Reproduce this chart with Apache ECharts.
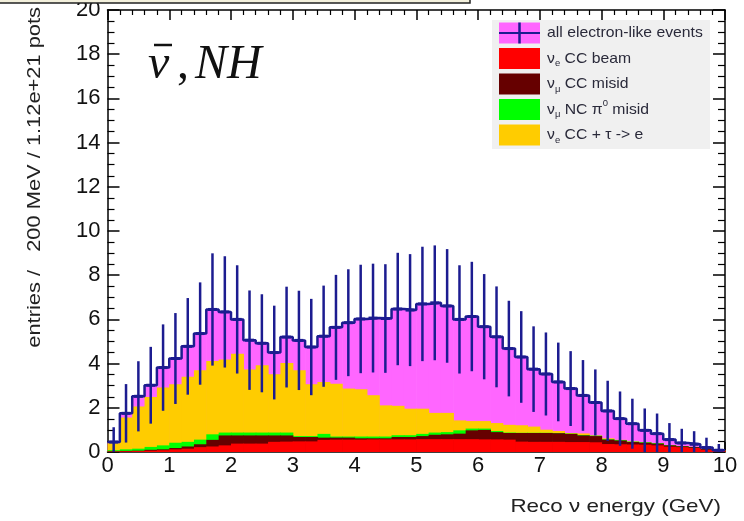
<!DOCTYPE html>
<html>
<head>
<meta charset="utf-8">
<script src="https://cdn.jsdelivr.net/npm/echarts@6/dist/echarts.min.js"></script>
<style>
  html, body { margin: 0; padding: 0; background: #ffffff; }
  #chart { width: 744px; height: 521px; }
</style>
</head>
<body>
<div id="chart"></div>
<script>
// Reconstructed neutrino energy: 50 bins of 200 MeV from 0 to 10 GeV
const binStart = 0;
const binWidth = 0.2;

// Cumulative heights of the stacked histogram, from the bottom layer up
const nueBeamTop = [0.02,0.03,0.04,0.06,0.08,0.12,0.15,0.22,0.25,0.30,
                    0.38,0.38,0.38,0.46,0.47,0.48,0.48,0.55,0.56,0.56,
                    0.56,0.57,0.57,0.57,0.57,0.58,0.58,0.58,0.58,0.58,
                    0.57,0.57,0.56,0.47,0.46,0.46,0.46,0.45,0.45,0.44,
                    0.36,0.35,0.34,0.33,0.30,0.24,0.22,0.18,0.10,0.06];
const numuCCTop  = [0.03,0.05,0.06,0.10,0.12,0.18,0.25,0.35,0.55,0.75,
                    0.75,0.75,0.75,0.75,0.75,0.68,0.68,0.65,0.65,0.65,
                    0.62,0.62,0.62,0.68,0.68,0.72,0.78,0.80,0.83,0.98,
                    1.00,0.90,0.86,0.86,0.86,0.86,0.85,0.82,0.75,0.72,
                    0.56,0.52,0.45,0.42,0.38,0.30,0.26,0.22,0.13,0.07];
const numuNCTop  = [0.08,0.12,0.15,0.23,0.30,0.42,0.46,0.56,0.80,0.88,
                    0.88,0.88,0.88,0.88,0.88,0.72,0.72,0.82,0.70,0.70,
                    0.70,0.70,0.70,0.76,0.76,0.82,0.88,0.90,0.98,1.06,
                    1.06,0.95,0.88,0.87,0.87,0.87,0.86,0.83,0.77,0.74,
                    0.58,0.54,0.47,0.44,0.40,0.31,0.27,0.23,0.14,0.07];
const nueCCTauTop = [0.40,1.56,2.06,2.49,2.92,3.06,3.40,3.70,4.12,4.18,
                    4.45,3.73,3.92,3.52,4.03,3.70,3.06,3.17,3.09,2.87,
                    2.84,2.57,2.11,2.09,1.96,1.96,1.77,1.77,1.43,1.40,
                    1.40,1.31,1.23,1.21,1.15,1.01,0.95,0.86,0.84,0.75,
                    0.62,0.55,0.48,0.44,0.40,0.31,0.27,0.23,0.14,0.07];
// All electron-like events (top of the stack, drawn with Poisson errors)
const allEvents  = [0.45,1.75,2.52,3.02,3.82,4.23,4.78,5.36,6.45,6.34,
                    6.00,5.06,4.92,4.50,5.20,5.05,4.75,5.24,5.64,5.85,
                    6.02,6.06,6.04,6.47,6.42,6.70,6.75,6.61,6.00,6.13,
                    5.67,5.21,4.68,4.30,3.75,3.53,3.17,2.87,2.56,2.24,
                    1.86,1.51,1.28,0.98,0.83,0.56,0.41,0.35,0.20,0.08];

const colors = {
  all: '#ff66ff',
  nueBeam: '#ff0000',
  numuCC: '#660000',
  numuNC: '#00ff00',
  nueCCTau: '#ffcc00',
  line: '#1c1c90'
};
const font = 'Liberation Sans, Arial, Helvetica, sans-serif';
const serif = '"Liberation Serif", "DejaVu Serif", serif';

const chart = echarts.init(document.getElementById('chart'), null, { renderer: 'canvas' });

// One filled histogram layer: a rectangle per bin from zero to its cumulative top
function histLayer(name, tops, color, z) {
  return {
    type: 'custom',
    name: name,
    z: z,
    silent: true,
    animation: false,
    xAxisIndex: 0,
    yAxisIndex: 0,
    data: tops.map((v, i) => [binStart + i * binWidth, binStart + (i + 1) * binWidth, v]),
    encode: { x: [0, 1], y: 2 },
    renderItem: function (params, api) {
      const a = api.coord([api.value(0), 0]);
      const b = api.coord([api.value(1), api.value(2)]);
      return {
        type: 'rect',
        shape: { x: a[0], y: b[1], width: b[0] - a[0] + 0.6, height: a[1] - b[1] },
        style: { fill: color }
      };
    }
  };
}

// Outline of the total as a step line through the bin edges
const outline = [];
allEvents.forEach((v, i) => {
  outline.push([binStart + i * binWidth, v]);
  outline.push([binStart + (i + 1) * binWidth, v]);
});

// Error bars at bin centres
const errorData = allEvents.map((v, i) => [binStart + (i + 0.5) * binWidth, v, Math.sqrt(v)]);

const axisCommon = {
  axisLine: { show: true, onZero: false, lineStyle: { color: '#000', width: 1.5 } },
  splitLine: { show: false }
};

const option = {
  backgroundColor: '#ffffff',
  animation: false,
  grid: { left: 107.5, right: 19, top: 10, bottom: 69, containLabel: false, outerBoundsMode: 'none' },
  xAxis: [
    Object.assign({
      type: 'value', min: 0, max: 10, interval: 1, position: 'bottom',
      axisTick: { show: true, inside: true, length: 10, lineStyle: { color: '#000', width: 1.5 } },
      minorTick: { show: true, splitNumber: 5, length: 5, lineStyle: { color: '#000', width: 1.2 } },
      axisLabel: { fontSize: 22, color: '#111', margin: 3, fontFamily: font }
    }, axisCommon),
    Object.assign({
      type: 'value', min: 0, max: 10, interval: 1, position: 'top',
      axisTick: { show: true, inside: true, length: 10, lineStyle: { color: '#000', width: 1.5 } },
      minorTick: { show: true, splitNumber: 5, length: 5, lineStyle: { color: '#000', width: 1.2 } },
      axisLabel: { show: false }
    }, axisCommon)
  ],
  yAxis: [
    Object.assign({
      type: 'value', min: 0, max: 20, interval: 2, position: 'left',
      axisTick: { show: true, inside: true, length: 12, lineStyle: { color: '#000', width: 1.5 } },
      minorTick: { show: true, splitNumber: 4, length: 7, lineStyle: { color: '#000', width: 1.2 } },
      axisLabel: { fontSize: 22, color: '#111', margin: 7, fontFamily: font }
    }, axisCommon),
    Object.assign({
      type: 'value', min: 0, max: 20, interval: 2, position: 'right',
      axisTick: { show: true, inside: true, length: 12, lineStyle: { color: '#000', width: 1.5 } },
      minorTick: { show: true, splitNumber: 4, length: 7, lineStyle: { color: '#000', width: 1.2 } },
      axisLabel: { show: false }
    }, axisCommon)
  ],
  series: [
    histLayer('all electron-like events', allEvents, colors.all, 2),
    histLayer('νe CC + τ -> e', nueCCTauTop, colors.nueCCTau, 3),
    histLayer('νμ NC π0 misid', numuNCTop, colors.numuNC, 4),
    histLayer('νμ CC misid', numuCCTop, colors.numuCC, 5),
    histLayer('νe CC beam', nueBeamTop, colors.nueBeam, 6),
    {
      type: 'line',
      name: 'outline',
      z: 7,
      silent: true,
      animation: false,
      symbol: 'none',
      data: outline,
      lineStyle: { color: colors.line, width: 2.5 }
    },
    {
      type: 'custom',
      name: 'errors',
      z: 8,
      silent: true,
      animation: false,
      data: errorData,
      encode: { x: 0, y: 1 },
      renderItem: function (params, api) {
        const xc = api.value(0), v = api.value(1), e = api.value(2);
        const top = api.coord([xc, v + e]);
        const bot = api.coord([xc, Math.max(0, v - e)]);
        const mid = api.coord([xc, v]);
        return {
          type: 'group',
          children: [
            { type: 'line', shape: { x1: top[0], y1: top[1], x2: bot[0], y2: bot[1] },
              style: { stroke: colors.line, lineWidth: 2.5 } },
            { type: 'line', shape: { x1: mid[0] - 4.5, y1: mid[1], x2: mid[0] + 4.5, y2: mid[1] },
              style: { stroke: colors.line, lineWidth: 3 } }
          ]
        };
      }
    }
  ],
  graphic: [
    // Title box cut off at the top edge
    { type: 'rect', shape: { x: -3, y: -8, width: 473, height: 11 },
      style: { fill: '#f3f0dc', stroke: '#222', lineWidth: 1.5 }, z: 10 },
    // Axis titles
    { type: 'text', x: 35, y: 7, rotation: Math.PI / 2, scaleX: 1.15,
      style: { text: 'entries /   200 MeV / 1.12e+21 pots', font: '19px ' + font, fill: '#222',
               align: 'right', verticalAlign: 'middle' } },
    { type: 'text', x: 721, y: 507, scaleX: 1.18,
      style: { text: 'Reco ν energy (GeV)', font: '19px ' + font, fill: '#222',
               align: 'right', verticalAlign: 'middle' } },
    // Channel label
    { type: 'text', x: 148, y: 65,
      style: { text: 'ν', font: 'italic 48px ' + serif, fill: '#111',
               align: 'left', verticalAlign: 'middle' } },
    { type: 'line', shape: { x1: 154, y1: 45, x2: 172, y2: 45 }, style: { stroke: '#111', lineWidth: 2.5 } },
    { type: 'text', x: 177, y: 65,
      style: { text: ',', font: '48px ' + serif, fill: '#111',
               align: 'left', verticalAlign: 'middle' } },
    { type: 'text', x: 195, y: 65,
      style: { text: 'NH', font: 'italic 48px ' + serif, fill: '#111',
               align: 'left', verticalAlign: 'middle' } }
  ]
};

// Legend box, drawn as graphics
const legendRows = [
  { fill: colors.all, text: '{m|all electron-like events}', cross: true },
  { fill: colors.nueBeam, text: '{m|ν}{s|e}{m| CC beam}' },
  { fill: colors.numuCC, text: '{m|ν}{s|μ}{m| CC misid}' },
  { fill: colors.numuNC, text: '{m|ν}{s|μ}{m| NC π}{p|0}{m| misid}' },
  { fill: colors.nueCCTau, text: '{m|ν}{s|e}{m| CC + τ -> e}' }
];
const legendRich = {
  m: { fontSize: 15, fontFamily: font, fill: '#2a2a3a', lineHeight: 20, verticalAlign: 'middle' },
  s: { fontSize: 9, fontFamily: font, fill: '#2a2a3a', lineHeight: 9, verticalAlign: 'bottom' },
  p: { fontSize: 9, fontFamily: font, fill: '#2a2a3a', lineHeight: 9, verticalAlign: 'top' }
};
option.graphic.push({ type: 'rect', shape: { x: 492, y: 20, width: 218, height: 129 },
  style: { fill: '#f0f0f0' }, z: 10 });
legendRows.forEach((row, i) => {
  const cy = 33 + i * 25.5;
  option.graphic.push({ type: 'rect', shape: { x: 499, y: cy - 10.5, width: 41, height: 21 },
    style: { fill: row.fill }, z: 11 });
  if (row.cross) {
    option.graphic.push({ type: 'line', shape: { x1: 499, y1: cy, x2: 540, y2: cy },
      style: { stroke: colors.line, lineWidth: 2 }, z: 12 });
    option.graphic.push({ type: 'line', shape: { x1: 519.5, y1: cy - 10.5, x2: 519.5, y2: cy + 10.5 },
      style: { stroke: colors.line, lineWidth: 2.5 }, z: 12 });
  }
  option.graphic.push({ type: 'text', x: 547, y: cy, z: 12, scaleX: 1.05,
    style: { text: row.text, rich: legendRich, align: 'left', verticalAlign: 'middle' } });
});

chart.setOption(option);
</script>
</body>
</html>
